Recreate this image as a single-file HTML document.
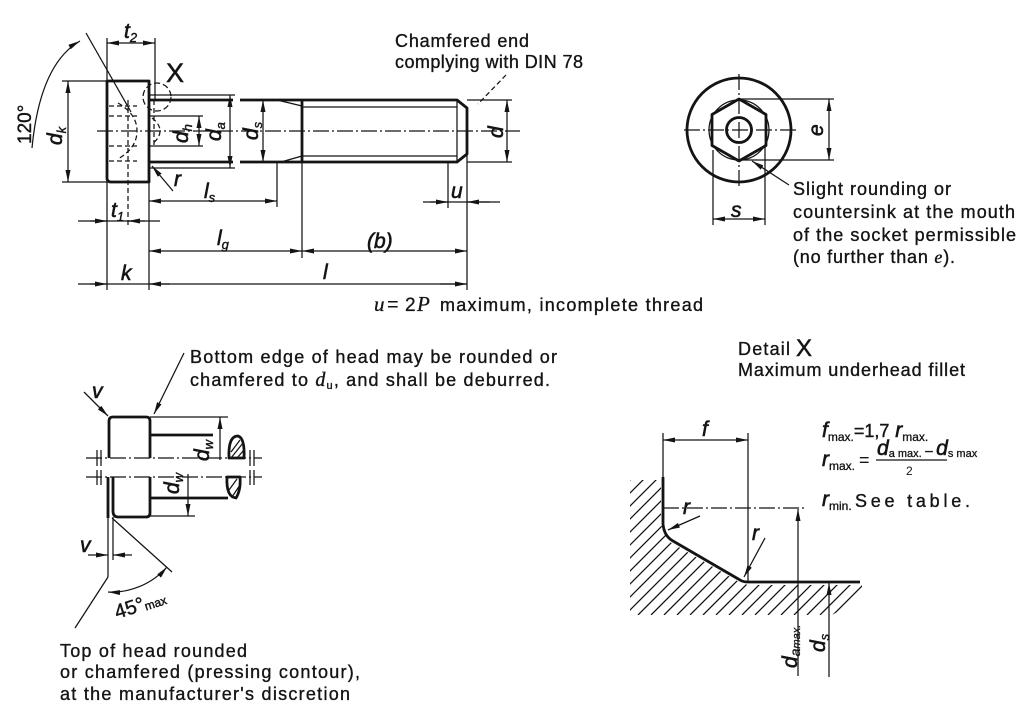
<!DOCTYPE html>
<html><head><meta charset="utf-8">
<style>html,body{margin:0;padding:0;background:#fff}svg{display:block}</style>
</head><body>
<svg xmlns="http://www.w3.org/2000/svg" width="1024" height="709" viewBox="0 0 1024 709">
<defs>
<marker id="a" viewBox="0 0 12 5" refX="12" refY="2.5" markerWidth="12" markerHeight="5" markerUnits="userSpaceOnUse" orient="auto-start-reverse"><path d="M0,0 L12,2.5 L0,5 z" fill="#141414"/></marker>
<clipPath id="hc"><polygon points="630,480 661,480 661,525 670,542 739,582 748,585 862,585 862,598 832,615 630,615"/></clipPath>
<style>
.k{stroke:#141414;stroke-width:2.8;fill:none;stroke-linejoin:round}
.t{stroke:#141414;stroke-width:1.25;fill:none}
.c{stroke-dasharray:16 3 2 3}
.h{stroke-dasharray:5 3}
.l{font-family:"Liberation Sans",sans-serif;font-style:italic;font-size:21px;fill:#141414;stroke:#141414;stroke-width:0.6}
.s{font-size:13px;stroke-width:0.4}
.n{font-family:"Liberation Sans",sans-serif;font-size:18px;fill:#141414;stroke:#141414;stroke-width:0.35}
.i{font-family:"Liberation Serif",serif;font-style:italic}
</style>
</defs>
<rect width="1024" height="709" fill="#fff"/>

<!-- ================= TOP LEFT SCREW ================= -->
<path class="k" d="M107,81 H149 V182 H111 Q107,182 107,178 Z"/>
<path class="k" d="M149,100 H233 M149,162 H233 M240,100 H457 L467,108 V154 L457,162 H240 M302,100 V162"/>
<path class="t" d="M457,100 V162 M277,100 L302,106 M281,162 L302,156 M302,107 H457 M302,156 H457"/>
<line class="t c" x1="97" y1="131" x2="520" y2="131"/>
<path class="t h" d="M109,106 H137 M109,116 H137 M109,146 H137 M109,161 H137"/>
<path class="t h" d="M118,103 Q137,114 137,131 Q137,148 118,159"/>
<path class="t h" d="M152,118 Q160,124 160,131 Q160,138 152,144 M154,100 V146"/>
<line class="t h" x1="128" y1="100" x2="128" y2="228"/>
<circle class="t" cx="157" cy="97" r="14" stroke-dasharray="6 3"/>
<text x="166" y="82" font-family="Liberation Sans" font-size="27" fill="#141414" stroke="#141414" stroke-width="0.5">X</text>
<line class="t" x1="86" y1="33" x2="131" y2="112"/>
<path class="t" d="M80,41 Q40,64 32,148" marker-start="url(#a)"/>
<text transform="translate(31,144) rotate(-90)" font-family="Liberation Sans" font-size="19" fill="#141414" stroke="#141414" stroke-width="0.4">120°</text>
<path class="t" d="M62,81 H107 M62,182 H107"/>
<line class="t" x1="68" y1="81" x2="68" y2="182" marker-start="url(#a)" marker-end="url(#a)"/>
<text class="l" transform="translate(62,145) rotate(-90)">d<tspan class="s" dy="4">k</tspan></text>
<path class="t" d="M107,38 V81 M155,38 V100"/>
<line class="t" x1="107" y1="43" x2="155" y2="43" marker-start="url(#a)" marker-end="url(#a)"/>
<text class="l" x="124" y="38">t<tspan class="s" dy="4">2</tspan></text>
<path class="t" d="M107,182 V290 M149,182 V290 M467,155 V290 M302,162 V258 M277,163 V207 M448,162 V208"/>
<line class="t" x1="78" y1="221" x2="160" y2="221"/>
<line class="t" x1="90" y1="221" x2="107" y2="221" marker-end="url(#a)"/>
<line class="t" x1="145" y1="221" x2="128" y2="221" marker-end="url(#a)"/>
<text class="l" x="111" y="217">t<tspan class="s" dy="4">1</tspan></text>
<line class="t" x1="78" y1="284" x2="467" y2="284"/>
<line class="t" x1="90" y1="284" x2="107" y2="284" marker-end="url(#a)"/>
<line class="t" x1="170" y1="284" x2="149" y2="284" marker-end="url(#a)"/>
<line class="t" x1="440" y1="284" x2="467" y2="284" marker-end="url(#a)"/>
<text class="l" x="121" y="280">k</text>
<text class="l" x="323" y="279">l</text>
<line class="t" x1="149" y1="201" x2="277" y2="201" marker-start="url(#a)" marker-end="url(#a)"/>
<text class="l" x="204" y="198">l<tspan class="s" dy="4">s</tspan></text>
<line class="t" x1="149" y1="251" x2="302" y2="251" marker-start="url(#a)" marker-end="url(#a)"/>
<line class="t" x1="302" y1="251" x2="467" y2="251" marker-start="url(#a)" marker-end="url(#a)"/>
<text class="l" x="217" y="245">l<tspan class="s" dy="4">g</tspan></text>
<text class="l" x="367" y="248">(b)</text>
<line class="t" x1="423" y1="202" x2="500" y2="202"/>
<line class="t" x1="430" y1="202" x2="448" y2="202" marker-end="url(#a)"/>
<line class="t" x1="490" y1="202" x2="467" y2="202" marker-end="url(#a)"/>
<text class="l" x="451" y="198">u</text>
<path class="t" d="M467,100 H512 M467,162 H512"/>
<line class="t" x1="507" y1="100" x2="507" y2="162" marker-start="url(#a)" marker-end="url(#a)"/>
<text class="l" transform="translate(503,138) rotate(-90)">d</text>
<line class="t" x1="506" y1="75" x2="478" y2="104" stroke-dasharray="5 3"/>
<line class="t" x1="173" y1="191" x2="152" y2="166" marker-end="url(#a)"/>
<text class="l" x="174" y="186">r</text>
<path class="t" d="M150,116 H203 M150,146 H203"/>
<line class="t" x1="199" y1="116" x2="199" y2="146" marker-start="url(#a)" marker-end="url(#a)"/>
<text class="l" transform="translate(188,143) rotate(-90)">d<tspan class="s" dy="4">h</tspan></text>
<path class="t" d="M150,95 H235 M150,168 H235"/>
<line class="t" x1="230" y1="95" x2="230" y2="168" marker-start="url(#a)" marker-end="url(#a)"/>
<text class="l" transform="translate(221,141) rotate(-90)">d<tspan class="s" dy="4">a</tspan></text>
<line class="t" x1="263" y1="100" x2="263" y2="162" marker-start="url(#a)" marker-end="url(#a)"/>
<text class="l" transform="translate(258,140) rotate(-90)">d<tspan class="s" dy="4">s</tspan></text>

<text class="n" x="395" y="47" textLength="134" lengthAdjust="spacing">Chamfered end</text>
<text class="n" x="395" y="68" textLength="188" lengthAdjust="spacing">complying with DIN 78</text>

<text x="374" y="311" font-family="Liberation Serif" font-style="italic" font-size="21" fill="#141414" stroke="#141414" stroke-width="0.3">u</text>
<text x="387" y="311" font-family="Liberation Sans" font-size="20" fill="#141414">=</text>
<text x="405" y="311" font-family="Liberation Sans" font-size="19" fill="#141414" stroke="#141414" stroke-width="0.3">2</text>
<text x="417" y="311" font-family="Liberation Serif" font-style="italic" font-size="21" fill="#141414" stroke="#141414" stroke-width="0.3">P</text>
<text class="n" x="440" y="311" textLength="263" lengthAdjust="spacing">maximum, incomplete thread</text>

<!-- ================= TOP RIGHT SOCKET ================= -->
<circle class="k" cx="739" cy="130" r="52"/>
<polygon class="k" points="739,99 766,114.5 766,145.5 739,161 712,145.5 712,114.5"/>
<circle class="t" cx="739" cy="130" r="30" stroke-width="2"/>
<circle class="k" cx="739" cy="130" r="12.5"/>
<line class="t c" x1="684" y1="130" x2="796" y2="130"/>
<line class="t c" x1="739" y1="74" x2="739" y2="186"/>
<path class="t" d="M739,99 H834 M739,160 H834 M713,150 V225 M765,145 V225"/>
<line class="t" x1="829" y1="99" x2="829" y2="160" marker-start="url(#a)" marker-end="url(#a)"/>
<text class="l" transform="translate(823,136) rotate(-90)">e</text>
<line class="t" x1="713" y1="219" x2="765" y2="219" marker-start="url(#a)" marker-end="url(#a)"/>
<text class="l" x="731" y="217">s</text>
<line class="t" x1="789" y1="185" x2="752" y2="161" marker-end="url(#a)"/>
<text class="n" x="793" y="195" textLength="158" lengthAdjust="spacing">Slight rounding or</text>
<text class="n" x="793" y="218" textLength="222" lengthAdjust="spacing">countersink at the mouth</text>
<text class="n" x="793" y="241" textLength="223" lengthAdjust="spacing">of the socket permissible</text>
<text class="n" x="793" y="263" textLength="162" lengthAdjust="spacing">(no further than <tspan class="i">e</tspan>).</text>

<!-- ================= BOTTOM LEFT ================= -->
<text class="n" x="190" y="363" textLength="367" lengthAdjust="spacing">Bottom edge of head may be rounded or</text>
<text class="n" x="190" y="386" textLength="360" lengthAdjust="spacing">chamfered to <tspan class="i" font-size="20">d</tspan><tspan font-size="11" dy="3">u</tspan><tspan dy="-3">, and shall be deburred.</tspan></text>
<line class="t" x1="184" y1="353" x2="154" y2="414" marker-end="url(#a)"/>
<line class="t" x1="84" y1="392" x2="108" y2="416" marker-end="url(#a)"/>
<text class="l" x="92" y="398" font-size="16">v</text>
<path class="k" d="M109,458 V421 Q109,417 113,417 H146 Q150,417 150,421 V458"/>
<line class="k" x1="150" y1="435" x2="213" y2="435"/>
<line class="t" x1="150" y1="417" x2="228" y2="417"/>
<line class="t" x1="220" y1="460" x2="220" y2="417" marker-end="url(#a)"/>
<text class="l" transform="translate(209,461) rotate(-90)">d<tspan class="s" dy="4">w</tspan></text>
<path class="k" d="M229,458 Q228,436 238,436 Q245,438 244,458 Z" stroke-width="2"/>
<path class="t" d="M231,452 L240,440 M231,458 L243,443 M237,458 L244,450"/>
<line class="t c" x1="86" y1="458" x2="262" y2="458"/>
<line class="t c" x1="86" y1="477" x2="262" y2="477"/>
<path class="t" d="M97,450 V466 M101,450 V466 M97,470 V485 M101,470 V485 M250,450 V466 M254,450 V466 M250,470 V485 M254,470 V485"/>
<path class="k" d="M113,477 V511 Q113,517 118,517 H146 Q150,517 150,513 V477"/>
<line class="k" x1="108" y1="477" x2="108" y2="518"/>
<line class="k" x1="150" y1="498" x2="228" y2="498"/>
<line class="t" x1="150" y1="516" x2="195" y2="516"/>
<line class="t" x1="188" y1="474" x2="188" y2="516" marker-end="url(#a)"/>
<text class="l" transform="translate(179,494) rotate(-90)">d<tspan class="s" dy="4">w</tspan></text>
<path class="k" d="M227,477 Q226,497 236,498 Q241,490 240,477 Z" stroke-width="2"/>
<path class="t" d="M229,490 L237,479 M232,497 L240,485"/>
<path class="t" d="M108,518 V577 M113,517 V560 M112,518 L172,572"/>
<line class="t" x1="88" y1="555" x2="108" y2="555" marker-end="url(#a)"/>
<line class="t" x1="132" y1="555" x2="113" y2="555" marker-end="url(#a)"/>
<text class="l" x="80" y="552" font-size="16">v</text>
<path class="t" d="M108,592 A74,74 0 0 0 167,567" marker-start="url(#a)" marker-end="url(#a)"/>
<text transform="translate(117,619) rotate(-18)" font-family="Liberation Sans" font-size="20" fill="#141414" stroke="#141414" stroke-width="0.4">45°<tspan font-size="12" dy="1">max</tspan></text>
<line class="t" x1="108" y1="577" x2="75" y2="628"/>
<text class="n" x="60" y="657" textLength="187" lengthAdjust="spacing">Top of head rounded</text>
<text class="n" x="60" y="678" textLength="300" lengthAdjust="spacing">or chamfered (pressing contour),</text>
<text class="n" x="60" y="700" textLength="290" lengthAdjust="spacing">at the manufacturer's discretion</text>

<!-- ================= DETAIL X ================= -->
<text class="n" x="738" y="355" textLength="52" lengthAdjust="spacing">Detail</text>
<text x="796" y="356" font-family="Liberation Sans" font-size="24" fill="#141414" stroke="#141414" stroke-width="0.5">X</text>
<text class="n" x="738" y="376" textLength="227" lengthAdjust="spacing">Maximum underhead fillet</text>

<path class="t" clip-path="url(#hc)" d="M495,615 L635,475 M508,615 L648,475 M521,615 L661,475 M534,615 L674,475 M547,615 L687,475 M560,615 L700,475 M573,615 L713,475 M586,615 L726,475 M599,615 L739,475 M612,615 L752,475 M625,615 L765,475 M638,615 L778,475 M651,615 L791,475 M664,615 L804,475 M677,615 L817,475 M690,615 L830,475 M703,615 L843,475 M716,615 L856,475 M729,615 L869,475 M742,615 L882,475 M755,615 L895,475 M768,615 L908,475 M781,615 L921,475 M794,615 L934,475 M807,615 L947,475 M820,615 L960,475 M833,615 L973,475 M846,615 L986,475 M859,615 L999,475"/>
<path class="k" d="M663,477 V524 Q664,536 673,541 L740,580 Q743,582 748,582 H860"/>
<path class="t" d="M663,433 V477 M748,433 V582"/>
<line class="t" x1="663" y1="440" x2="748" y2="440" marker-start="url(#a)" marker-end="url(#a)"/>
<text class="l" x="702" y="436">f</text>
<line class="t c" x1="663" y1="508" x2="806" y2="508"/>
<line class="t" x1="798" y1="676" x2="798" y2="509" marker-end="url(#a)"/>
<line class="t" x1="829" y1="677" x2="829" y2="583" marker-end="url(#a)"/>
<text class="l" transform="translate(797,668) rotate(-90)">d<tspan font-size="14" dy="3" stroke-width="0.3">a</tspan><tspan font-size="11" stroke-width="0.3">max.</tspan></text>
<text class="l" transform="translate(825,652) rotate(-90)">d<tspan class="s" dy="4">s</tspan></text>
<line class="t" x1="700" y1="516" x2="668" y2="530" marker-end="url(#a)"/>
<text class="l" x="683" y="514">r</text>
<line class="t" x1="765" y1="538" x2="744" y2="577" marker-end="url(#a)"/>
<text class="l" x="752" y="540">r</text>

<!-- formulas -->
<text class="l" x="822" y="437">f<tspan font-size="12" font-style="normal" dy="4" stroke-width="0.3">max.</tspan><tspan font-style="normal" font-size="18" dy="-4" stroke-width="0.4">=1,7</tspan> r<tspan font-size="12" font-style="normal" dy="4" stroke-width="0.3">max.</tspan></text>
<text class="l" x="822" y="466">r<tspan font-size="12" font-style="normal" dy="4" stroke-width="0.3">max.</tspan></text>
<text x="859" y="466" font-family="Liberation Sans" font-size="18" fill="#141414">=</text>
<text class="l" x="877" y="455" font-size="15" stroke-width="0.4">d<tspan font-size="11" font-style="normal" dy="2" stroke-width="0.3">a max.</tspan><tspan font-size="13" font-style="normal" dy="-2"> – </tspan>d<tspan font-size="11" font-style="normal" dy="2" stroke-width="0.3">s max</tspan></text>
<line class="t" x1="876" y1="460" x2="947" y2="460"/>
<text x="906" y="475" font-family="Liberation Sans" font-size="12" fill="#141414">2</text>
<text class="l" x="822" y="506">r<tspan font-size="12" font-style="normal" dy="4" stroke-width="0.3">min.</tspan></text>
<text class="n" x="855" y="507" textLength="115" lengthAdjust="spacing">See table.</text>
</svg>
</body></html>
